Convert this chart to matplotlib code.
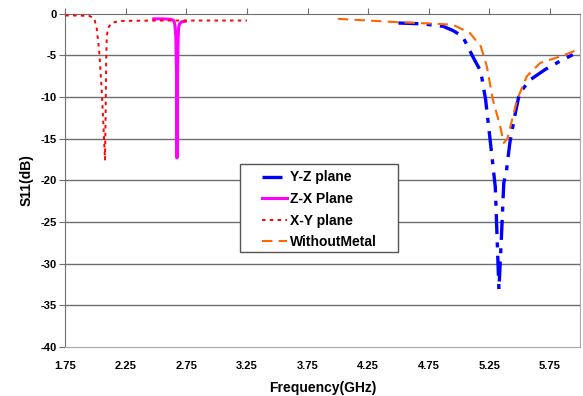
import numpy as np
import matplotlib
matplotlib.use("Agg")
import matplotlib.pyplot as plt
from matplotlib.patches import Rectangle

plt.rcParams['font.family'] = ['Liberation Sans', 'DejaVu Sans']

# -------------------------------------------------------
# Data (frequency in GHz, S11 in dB)
# -------------------------------------------------------
yz_freq = [4.50, 4.70, 4.87, 4.95, 5.03, 5.12, 5.18, 5.22, 5.26, 5.30, 5.33,
           5.35, 5.37, 5.39, 5.42, 5.46, 5.50, 5.59, 5.71, 5.82, 5.94]
yz_s11 = [-1.1, -1.2, -1.5, -2.0, -2.7, -5.3, -6.9, -10.3, -15.5, -20.8, -33.1,
          -27.0, -20.3, -19.1, -15.5, -12.3, -9.5, -7.9, -6.7, -5.8, -4.9]

zx_freq = [2.48, 2.55, 2.62, 2.645, 2.655, 2.663, 2.668, 2.672, 2.676, 2.681,
           2.686, 2.695, 2.71, 2.74]
zx_s11 = [-0.6, -0.6, -0.65, -0.8, -1.3, -2.8, -7.0, -17.3, -8.0, -3.0,
          -1.6, -1.15, -0.95, -0.9]

xy_freq = [1.75, 1.85, 1.95, 1.99, 2.01, 2.03, 2.05, 2.065, 2.078, 2.083,
           2.087, 2.092, 2.10, 2.13, 2.20, 2.50, 3.25]
xy_s11 = [-0.2, -0.2, -0.25, -0.6, -1.8, -4.5, -9.0, -13.5, -17.5, -12.0,
          -6.0, -3.0, -1.8, -1.1, -0.85, -0.8, -0.8]

wm_freq = [4.00, 4.25, 4.49, 4.75, 4.95, 5.09, 5.18, 5.23, 5.28, 5.34, 5.37,
           5.40, 5.48, 5.56, 5.67, 5.86, 5.98]
wm_s11 = [-0.6, -0.8, -1.0, -1.15, -1.3, -2.3, -3.9, -6.3, -10.3, -13.5, -15.5,
          -15.0, -10.3, -7.5, -5.9, -5.0, -4.3]

x_ticks = [1.75, 2.25, 2.75, 3.25, 3.75, 4.25, 4.75, 5.25, 5.75]
y_ticks = [0, -5, -10, -15, -20, -25, -30, -35, -40]

# -------------------------------------------------------
# Plot
# -------------------------------------------------------
fig = plt.figure(figsize=(5.83, 3.96), dpi=100)
ax = fig.add_axes([0.112, 0.124, 0.883, 0.841])

for y in y_ticks[1:-1]:
    ax.axhline(y, color="#6e6e6e", lw=1.0, zorder=1)

ax.plot(yz_freq, yz_s11, color="#0000ff", lw=2.4,
        dashes=(6, 2.5, 1.5, 2.5), label="Y-Z plane", zorder=3)
ax.plot(zx_freq, zx_s11, color="#ff00ff", lw=2.2, label="Z-X Plane", zorder=3)
ax.plot(xy_freq, xy_s11, color="#ff0000", lw=1.4,
        dashes=(1.8, 2.2), label="X-Y plane", zorder=3)
ax.plot(wm_freq, wm_s11, color="#ff6600", lw=1.5,
        dashes=(5, 3), label="WithoutMetal", zorder=4)

ax.set_xlim(1.75, 6.0)
ax.set_ylim(-40, 0)
ax.set_xticks(x_ticks)
ax.set_yticks(y_ticks)
ax.set_xticklabels([f"{t:.2f}" for t in x_ticks], fontsize=8, fontweight="bold")
ax.set_yticklabels([str(t) for t in y_ticks], fontsize=8, fontweight="bold")

# Excel-like axes: x axis crosses at 0 (top), labels low
ax.tick_params(axis="x", top=True, bottom=False, labeltop=False,
               labelbottom=True, direction="out", length=4, color="#6e6e6e",
               pad=6)
ax.tick_params(axis="y", direction="out", length=4, color="#6e6e6e", pad=2)

ax.spines["top"].set_color("#6e6e6e")
ax.spines["left"].set_color("#6e6e6e")
ax.spines["right"].set_color("#a8a8a8")
ax.spines["bottom"].set_color("#a8a8a8")

ax.set_xlabel("Frequency(GHz)", fontsize=10, fontweight="bold", labelpad=7)
ax.set_ylabel("S11(dB)", fontsize=10, fontweight="bold", labelpad=5)

# legend box drawn separately so it can be wider than its contents
box = Rectangle((0.339, 0.285), 0.307, 0.264, transform=ax.transAxes,
                facecolor="white", edgecolor="#555555", lw=1.0, zorder=5)
ax.add_patch(box)

leg = ax.legend(loc="upper left", bbox_to_anchor=(0.382, 0.530),
                prop={"weight": "bold", "size": 10},
                frameon=False, borderpad=0, borderaxespad=0,
                labelspacing=0.55, handlelength=1.8, handletextpad=0.2)
leg.set_zorder(6)

fig.savefig("out.png", dpi=100)
